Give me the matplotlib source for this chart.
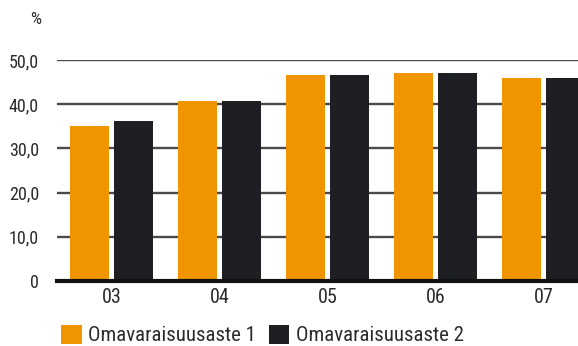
import matplotlib
matplotlib.use("Agg")
import matplotlib.pyplot as plt
import numpy as np

plt.rcParams["font.family"] = ["Roboto Condensed", "DejaVu Sans"]

years = ["03", "04", "05", "06", "07"]
aste1 = [35.0, 40.7, 46.6, 47.1, 45.9]
aste2 = [36.2, 40.7, 46.6, 47.1, 45.9]
yticks = [0, 10, 20, 30, 40, 50]
ytick_labels = ["0", "10,0", "20,0", "30,0", "40,0", "50,0"]
series_names = ["Omavaraisuusaste 1", "Omavaraisuusaste 2"]

ORANGE = "#F09400"
BLACK = "#1E1F22"
TEXT = "#2b2b2b"

fig = plt.figure(figsize=(5.78, 3.46), dpi=100)
ax = fig.add_axes([57 / 578, 1 - 281 / 346, 1 - 57 / 578, 221 / 346])

x = np.arange(len(years))
w = 0.361
off = 0.204
b1 = ax.bar(x - off, aste1, width=w, color=ORANGE, zorder=3)
b2 = ax.bar(x + off, aste2, width=w, color=BLACK, zorder=3)

ax.set_xlim(-0.505, 4.32)
ax.set_ylim(0, 50)
ax.set_yticks(yticks)
ax.set_yticklabels(ytick_labels)
ax.set_xticks(x)
ax.set_xticklabels(years)
ax.tick_params(axis="y", length=0, pad=13, labelsize=13, labelcolor=TEXT)
ax.tick_params(axis="x", length=0, pad=5, labelsize=14.5, labelcolor=TEXT)

for s in ax.spines.values():
    s.set_visible(False)
ax.grid(axis="y", color="#4a4a4a", linewidth=1.7, zorder=0)
ax.set_axisbelow(True)
ax.axhline(0, color="#111111", linewidth=3, zorder=4, clip_on=False)

fig.text(36 / 578, 1 - 20 / 346, "%", ha="center", va="center",
         fontsize=12.5, color=TEXT)

fig.legend([b1, b2], series_names, ncol=2, loc="lower left",
           bbox_to_anchor=(59 / 578, -0.004), frameon=False,
           fontsize=15, handlelength=1.0, handleheight=1.05,
           handletextpad=0.3, columnspacing=0.6, labelcolor=TEXT,
           borderaxespad=0, borderpad=0.1)

fig.savefig("out.png", dpi=100)
